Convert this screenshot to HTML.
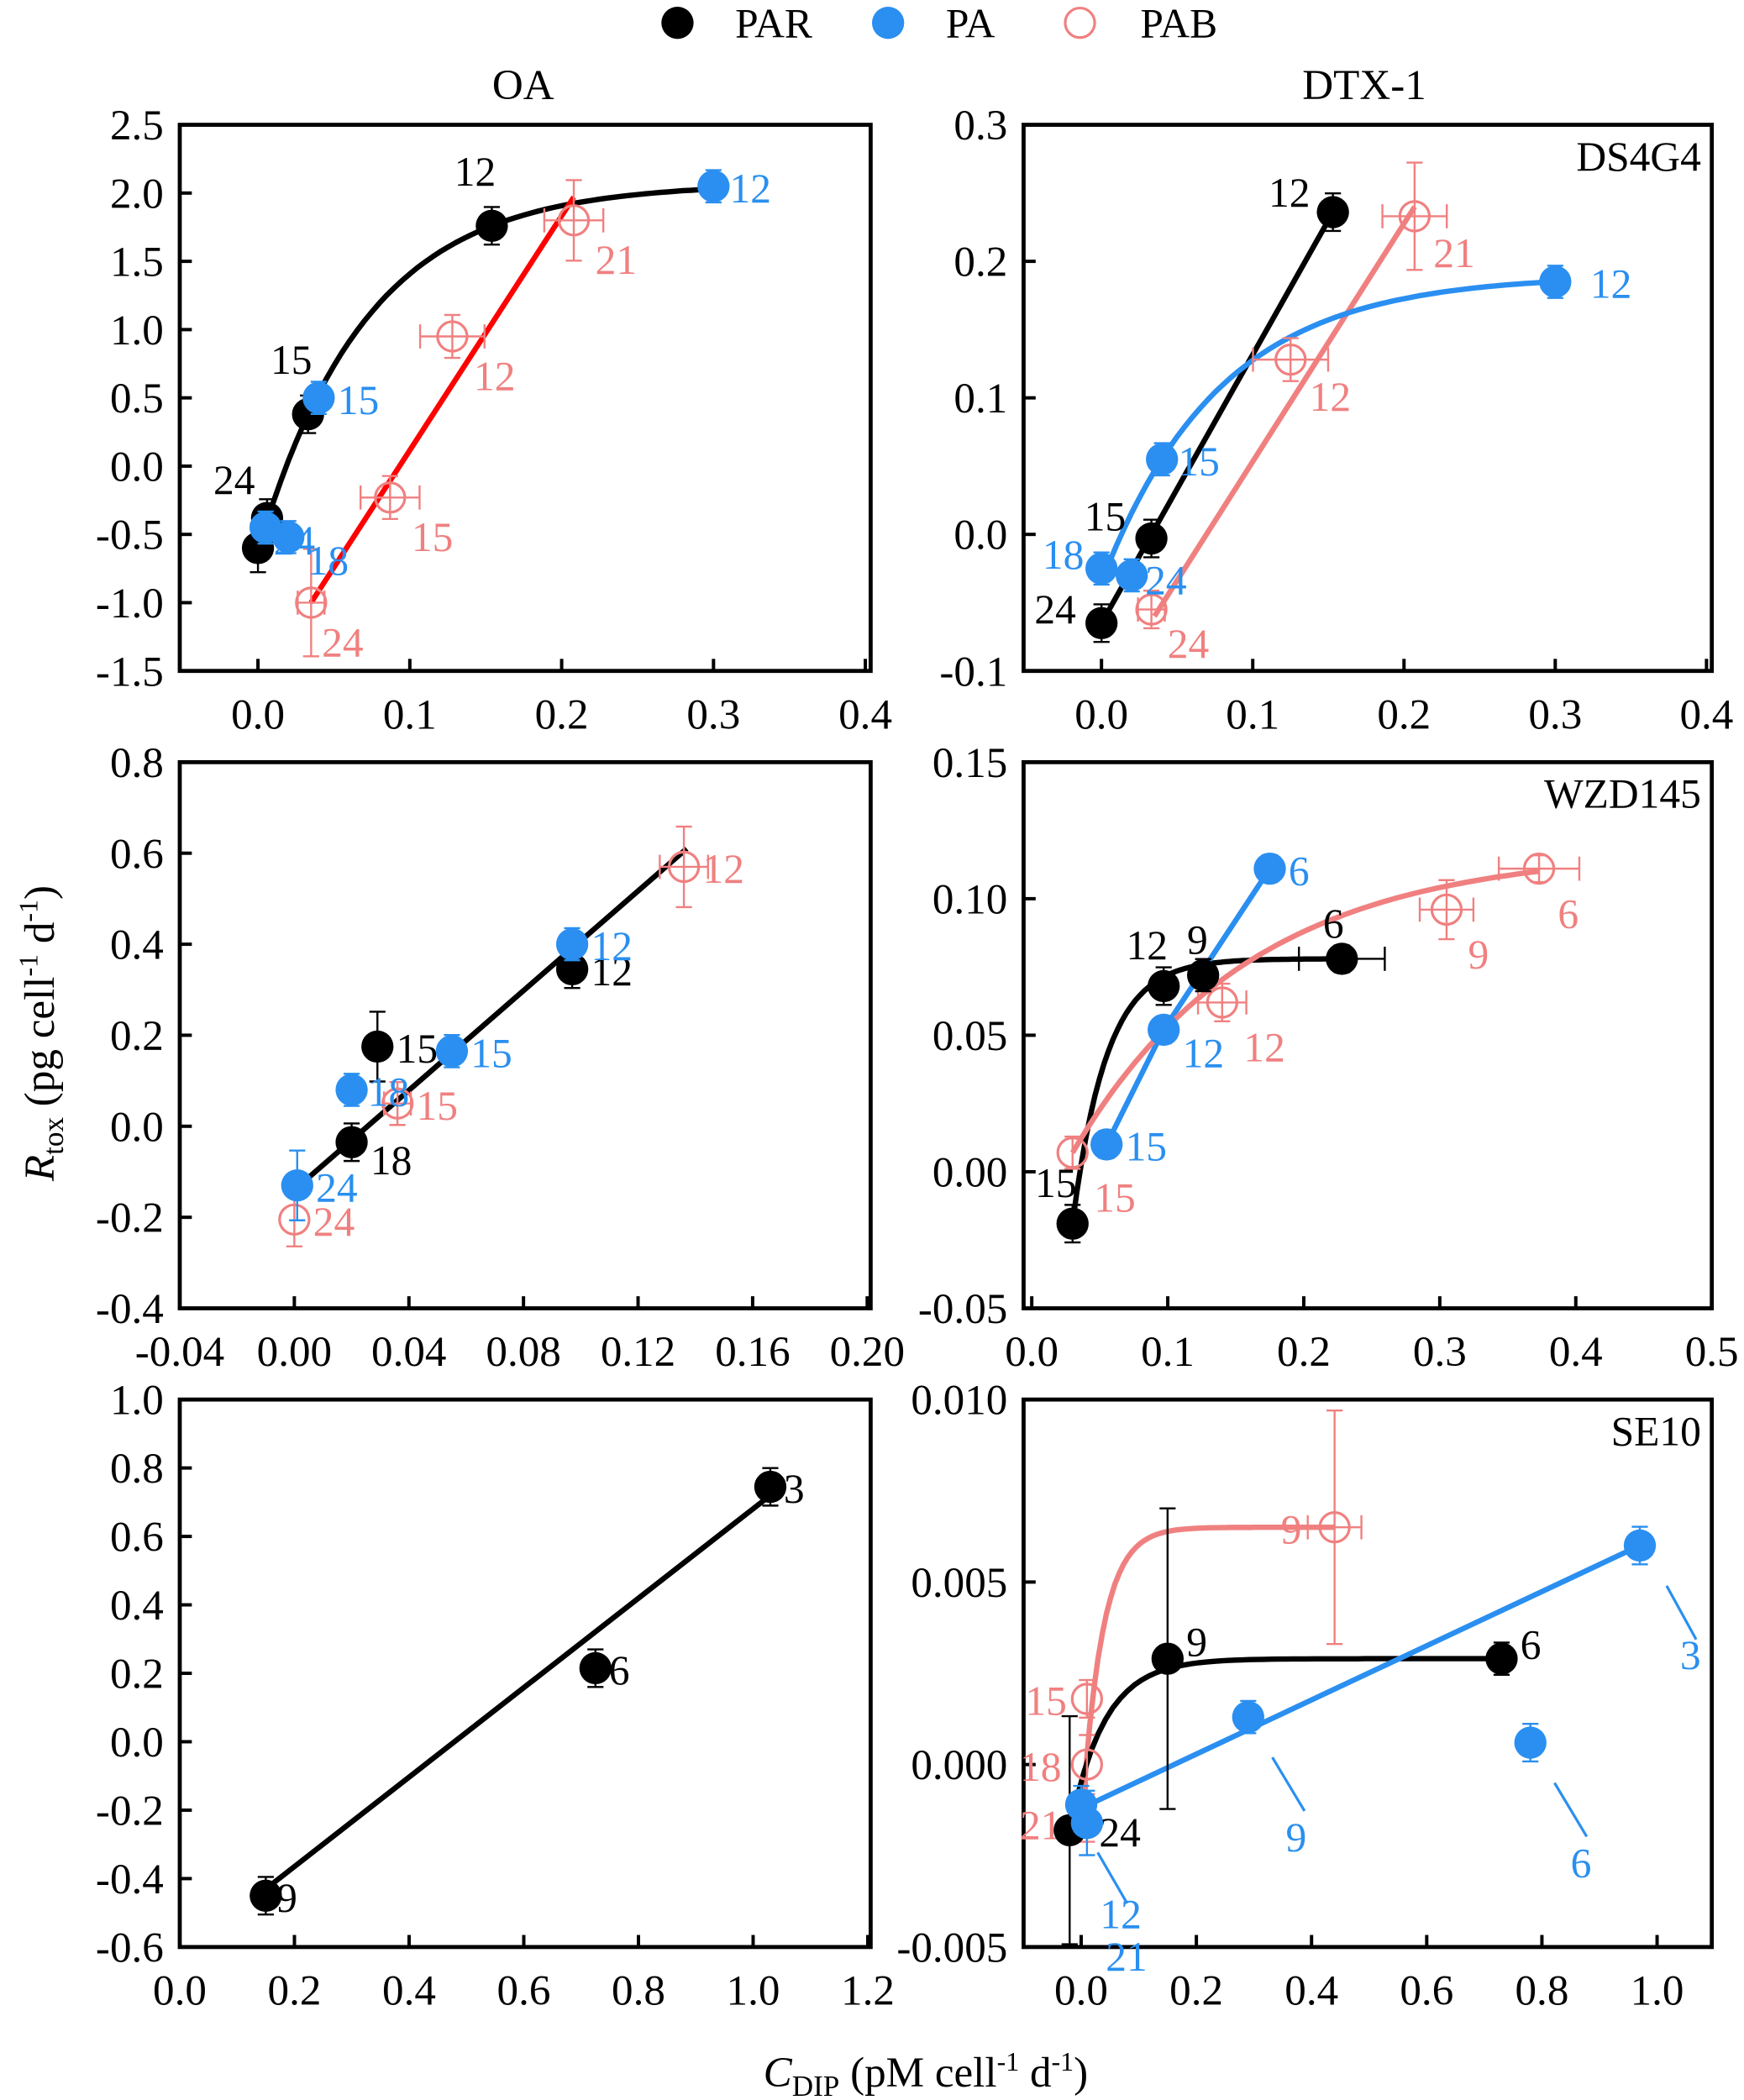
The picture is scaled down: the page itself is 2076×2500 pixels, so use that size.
<!DOCTYPE html>
<html><head><meta charset="utf-8"><style>
html,body{margin:0;padding:0;background:#fff}
svg{display:block}
text{font-family:"Liberation Serif",serif}
</style></head><body>
<svg id="fig" width="2076" height="2500" viewBox="0 0 1300 1565" preserveAspectRatio="none" xmlns="http://www.w3.org/2000/svg" font-family="Liberation Serif, serif">
<rect width="1300" height="1565" fill="#fff"/>
<g>
 <g><circle cx="505" cy="17" r="12" fill="#000"/><text x="548" y="28" font-size="31">PAR</text></g>
 <g><circle cx="662" cy="17" r="12" fill="#2a8ff0"/><text x="705" y="28" font-size="31">PA</text></g>
 <g><circle cx="805" cy="17" r="11" fill="none" stroke="#f08080" stroke-width="2"/><text x="850" y="28" font-size="31">PAB</text></g>
</g>
<text x="390" y="74" font-size="32" text-anchor="middle">OA</text>
<text x="1017" y="74" font-size="32" text-anchor="middle">DTX-1</text>
<text transform="translate(40,770) rotate(-90)" font-size="32" text-anchor="middle"><tspan font-style="italic">R</tspan><tspan font-size="22" dy="7">tox</tspan><tspan dy="-7"> (pg cell</tspan><tspan font-size="20" dy="-12">-1</tspan><tspan dy="12"> d</tspan><tspan font-size="20" dy="-12">-1</tspan><tspan dy="12">)</tspan></text>
<text x="690" y="1555" font-size="32" text-anchor="middle"><tspan font-style="italic">C</tspan><tspan font-size="22" dy="7">DIP</tspan><tspan dy="-7"> (pM cell</tspan><tspan font-size="20" dy="-12">-1</tspan><tspan dy="12"> d</tspan><tspan font-size="20" dy="-12">-1</tspan><tspan dy="12">)</tspan></text>
</svg>
<script>
// ---- data arrays ----
// Panel 1: OA DS4G4
const p1xTicks=[0.0,0.1,0.2,0.3,0.4]; const p1xLabels=["0.0","0.1","0.2","0.3","0.4"];
const p1yTicks=[-1.5,-1.0,-0.5,0.0,0.5,1.0,1.5,2.0,2.5]; const p1yLabels=["-1.5","-1.0","-0.5","0.0","0.5","1.0","1.5","2.0","2.5"];
const p1ParX=[0.0,0.006,0.033,0.154]; const p1ParY=[-0.6,-0.38,0.38,1.76]; const p1ParLab=["","24","15","12"];
const p1PaX=[0.005,0.02,0.04,0.3]; const p1PaY=[-0.45,-0.52,0.5,2.05]; const p1PaLab=["24","18","15","12"];
const p1PabX=[0.035,0.087,0.128,0.208]; const p1PabY=[-1.0,-0.23,0.95,1.8]; const p1PabLab=["24","15","12","21"];
// Panel 2: DTX-1 DS4G4
const p2xTicks=[0.0,0.1,0.2,0.3,0.4]; const p2xLabels=["0.0","0.1","0.2","0.3","0.4"];
const p2yTicks=[-0.1,0.0,0.1,0.2,0.3]; const p2yLabels=["-0.1","0.0","0.1","0.2","0.3"];
const p2ParX=[0.0,0.033,0.153]; const p2ParY=[-0.065,-0.003,0.236]; const p2ParLab=["24","15","12"];
const p2PaX=[0.0,0.02,0.04,0.3]; const p2PaY=[-0.025,-0.03,0.055,0.185]; const p2PaLab=["18","24","15","12"];
const p2PabX=[0.033,0.125,0.207]; const p2PabY=[-0.055,0.128,0.233]; const p2PabLab=["24","12","21"];
// Panel 3: OA WZD145
const p3xTicks=[-0.04,0.0,0.04,0.08,0.12,0.16,0.2]; const p3xLabels=["-0.04","0.00","0.04","0.08","0.12","0.16","0.20"];
const p3yTicks=[-0.4,-0.2,0.0,0.2,0.4,0.6,0.8]; const p3yLabels=["-0.4","-0.2","0.0","0.2","0.4","0.6","0.8"];
const p3ParX=[0.02,0.029,0.097]; const p3ParY=[-0.035,0.175,0.345]; const p3ParLab=["18","15","12"];
const p3PaX=[0.001,0.02,0.055,0.097]; const p3PaY=[-0.13,0.08,0.165,0.4]; const p3PaLab=["24","18","15","12"];
const p3PabX=[0.0,0.036,0.136]; const p3PabY=[-0.205,0.05,0.57]; const p3PabLab=["24","15","12"];
// Panel 4: DTX-1 WZD145
const p4xTicks=[0.0,0.1,0.2,0.3,0.4,0.5]; const p4xLabels=["0.0","0.1","0.2","0.3","0.4","0.5"];
const p4yTicks=[-0.05,0.0,0.05,0.1,0.15]; const p4yLabels=["-0.05","0.00","0.05","0.10","0.15"];
const p4ParX=[0.03,0.097,0.126,0.228]; const p4ParY=[-0.019,0.068,0.072,0.078]; const p4ParLab=["15","12","9","6"];
const p4PaX=[0.055,0.097,0.175]; const p4PaY=[0.01,0.052,0.111]; const p4PaLab=["15","12","6"];
const p4PabX=[0.03,0.14,0.305,0.373]; const p4PabY=[0.007,0.062,0.096,0.111]; const p4PabLab=["15","12","9","6"];
// Panel 5: OA SE10
const p5xTicks=[0.0,0.2,0.4,0.6,0.8,1.0,1.2]; const p5xLabels=["0.0","0.2","0.4","0.6","0.8","1.0","1.2"];
const p5yTicks=[-0.6,-0.4,-0.2,0.0,0.2,0.4,0.6,0.8,1.0]; const p5yLabels=["-0.6","-0.4","-0.2","0.0","0.2","0.4","0.6","0.8","1.0"];
const p5ParX=[0.15,0.725,1.03]; const p5ParY=[-0.45,0.215,0.745]; const p5ParLab=["9","6","3"];
// Panel 6: DTX-1 SE10
const p6xTicks=[0.0,0.2,0.4,0.6,0.8,1.0]; const p6xLabels=["0.0","0.2","0.4","0.6","0.8","1.0"];
const p6yTicks=[-0.005,0.0,0.005,0.01]; const p6yLabels=["-0.005","0.000","0.005","0.010"];
const p6ParX=[-0.02,0.15,0.73]; const p6ParY=[-0.0018,0.0029,0.0029]; const p6ParLab=["24","9","6"];
const p6PaX=[0.0,0.01,0.29,0.78,0.97]; const p6PaY=[-0.0011,-0.0016,0.0013,0.0006,0.006]; const p6PaLab=["12","21","9","6","3"];
const p6PabX=[0.01,0.01,0.01,0.44]; const p6PabY=[0.0018,0.0,-0.0016,0.0065]; const p6PabLab=["15","18","21","9"];

const BLACK="#000", BLUE="#2a8ff0", PINK="#f08080", RED="#ff0000";
const svg=document.getElementById('fig');
const NS="http://www.w3.org/2000/svg";
function mk(tag,attrs,parent){const e=document.createElementNS(NS,tag);for(const k in attrs)e.setAttribute(k,attrs[k]);parent.appendChild(e);return e;}

function panel(name,box,xd,yd,xt,xl,yt,yl,strain){
  const g=mk('g',{},svg);
  
  
  const sx=v=>box.l+(v-xd[0])/(xd[1]-xd[0])*(box.r-box.l);
  const sy=v=>box.b-(v-yd[0])/(yd[1]-yd[0])*(box.b-box.t);
  const fr=mk('rect',{x:box.l,y:box.t,width:box.r-box.l,height:box.b-box.t,fill:'none',stroke:'#000','stroke-width':3},g);
  
  
  xt.forEach((v,i)=>{
    mk('line',{x1:sx(v),x2:sx(v),y1:box.b,y2:box.b-9,stroke:'#000','stroke-width':2.5},g);
    const t=mk('text',{x:sx(v),y:box.b+43,'font-size':32,'text-anchor':'middle'},g);t.textContent=xl[i];
    
    
  });
  yt.forEach((v,i)=>{
    mk('line',{x1:box.l,x2:box.l+9,y1:sy(v),y2:sy(v),stroke:'#000','stroke-width':2.5},g);
    const t=mk('text',{x:box.l-12,y:sy(v)+11,'font-size':32,'text-anchor':'end'},g);t.textContent=yl[i];
    
    
  });
  if(strain){const t=mk('text',{x:box.r-8,y:box.t+34,'font-size':31,'text-anchor':'end'},g);t.textContent=strain;
    
    }
  return {g,sx,sy};
}
function line(P,pts,color,w,name){
  const d=pts.map((p,i)=>(i?'L':'M')+P.sx(p[0]).toFixed(1)+','+P.sy(p[1]).toFixed(1)).join(' ');
  const e=mk('path',{d,fill:'none',stroke:color,'stroke-width':w||4,'stroke-linejoin':'round'},P.g);
  
  
}
function satCurve(P,x0,x1,a,b,c,color,name){
  const pts=[];for(let i=0;i<=60;i++){const x=x0+(x1-x0)*i/60;pts.push([x,a-b*Math.exp(-(x-x0)/c)]);}
  line(P,pts,color,4,name);
}
function series(P,xs,ys,labs,color,hollow,name,dx,dy,ey,ex){
  xs.forEach((x,i)=>{
    const cx=P.sx(x),cy=P.sy(ys[i]);
    const e=ey?ey[i]||12:12, h=ex?ex[i]||0:0;
    mk('line',{x1:cx,x2:cx,y1:cy-e,y2:cy+e,stroke:color,'stroke-width':1.5},P.g);
    mk('line',{x1:cx-6,x2:cx+6,y1:cy-e,y2:cy-e,stroke:color,'stroke-width':1.5},P.g);
    mk('line',{x1:cx-6,x2:cx+6,y1:cy+e,y2:cy+e,stroke:color,'stroke-width':1.5},P.g);
    if(h){mk('line',{x1:cx-h,x2:cx+h,y1:cy,y2:cy,stroke:color,'stroke-width':1.5},P.g);
      mk('line',{x1:cx-h,x2:cx-h,y1:cy-9,y2:cy+9,stroke:color,'stroke-width':1.5},P.g);
      mk('line',{x1:cx+h,x2:cx+h,y1:cy-9,y2:cy+9,stroke:color,'stroke-width':1.5},P.g);}
    const c=mk('circle',{cx,cy,r:hollow?11:12,fill:hollow?'none':color,stroke:color,'stroke-width':hollow?2:0},P.g);
    
    
    if(labs[i]){const t=mk('text',{x:cx+(dx?dx[i]:16),y:cy+(dy?dy[i]:12),'font-size':31,fill:color},P.g);t.textContent=labs[i];
      
      }
  });
}
// Panel 1
let P=panel('panel-oa-ds4g4',{l:134,r:649,t:93,b:500},[-0.0515,0.4035],[-1.5,2.5],p1xTicks,p1xLabels,p1yTicks,p1yLabels,'');
satCurve(P,0,0.3,2.07,2.69,0.0713,BLACK,'par-fit-curve');
line(P,[[0.035,-1.0],[0.208,1.97]],RED,4,'pab-fit-line');
series(P,p1PabX,p1PabY,p1PabLab,PINK,true,'pab',[8,16,16,16],[40,40,40,40],[40,16,16,30],[10,22,24,22]);
series(P,p1ParX,p1ParY,p1ParLab,BLACK,false,'par',[0,-40,-28,-28],[0,-18,-30,-30],[18,14,14,14]);
series(P,p1PaX,p1PaY,p1PaLab,BLUE,false,'pa',[6,14,14,12],[20,28,12,12],[12,12,12,12]);
// Panel 2
P=panel('panel-dtx1-ds4g4',{l:763,r:1276,t:93,b:500},[-0.0515,0.4035],[-0.1,0.3],p2xTicks,p2xLabels,p2yTicks,p2yLabels,'DS4G4');
line(P,[[0,-0.065],[0.153,0.236]],BLACK,4,'par-fit-line');
line(P,[[0.035,-0.06],[0.207,0.24]],PINK,4,'pab-fit-line');
satCurve(P,0,0.3,0.19,0.225,0.078,BLUE,'pa-fit-curve');
series(P,p2PabX,p2PabY,p2PabLab,PINK,true,'pab',[12,14,14],[36,38,38],[14,16,40],[10,28,24]);
series(P,p2ParX,p2ParY,p2ParLab,BLACK,false,'par',[-50,-50,-48],[0,-6,-4],[14,14,14]);
series(P,p2PaX,p2PaY,p2PaLab,BLUE,false,'pa',[-44,10,12,26],[0,14,12,12],[12,12,12,12]);
// Panel 3
P=panel('panel-oa-wzd145',{l:134,r:649,t:568,b:975},[-0.04,0.2012],[-0.4,0.8],p3xTicks,p3xLabels,p3yTicks,p3yLabels,'');
line(P,[[0,-0.14],[0.137,0.61]],BLACK,4,'par-fit-line');
series(P,p3PabX,p3PabY,p3PabLab,PINK,true,'pab',[14,14,14],[12,12,12],[20,16,30],[0,10,18]);
series(P,p3ParX,p3ParY,p3ParLab,BLACK,false,'par',[14,14,14],[24,12,12],[14,26,14]);
series(P,p3PaX,p3PaY,p3PaLab,BLUE,false,'pa',[14,12,14,14],[12,12,12,12],[26,12,12,12]);
// Panel 4
P=panel('panel-dtx1-wzd145',{l:763,r:1276,t:568,b:975},[-0.006,0.5],[-0.05,0.15],p4xTicks,p4xLabels,p4yTicks,p4yLabels,'WZD145');
satCurve(P,0.03,0.228,0.078,0.097,0.025,BLACK,'par-fit-curve');
line(P,[[0.055,0.01],[0.097,0.052],[0.175,0.111]],BLUE,4,'pa-fit-line');
satCurve(P,0.03,0.373,0.118,0.111,0.13,PINK,'pab-fit-curve');
series(P,p4PabX,p4PabY,p4PabLab,PINK,true,'pab',[16,16,16,14],[44,44,44,44],[12,14,22,10],[0,18,20,30]);
series(P,p4ParX,p4ParY,p4ParLab,BLACK,false,'par',[-28,-28,-12,-14],[-20,-20,-16,-16],[14,14,12,10],[0,0,0,32]);
series(P,p4PaX,p4PaY,p4PaLab,BLUE,false,'pa',[14,14,14],[12,28,12],[10,10,10]);
// Panel 5
P=panel('panel-oa-se10',{l:134,r:649,t:1043,b:1451},[0,1.205],[-0.6,1.0],p5xTicks,p5xLabels,p5yTicks,p5yLabels,'');
line(P,[[0.15,-0.43],[1.03,0.72]],BLACK,4,'par-fit-line');
series(P,p5ParX,p5ParY,p5ParLab,BLACK,false,'par',[8,10,10],[12,12,12],[14,14,14]);
// Panel 6
P=panel('panel-dtx1-se10',{l:763,r:1276,t:1043,b:1451},[-0.1,1.095],[-0.005,0.01],p6xTicks,p6xLabels,p6yTicks,p6yLabels,'SE10');
satCurve(P,0,0.44,0.0065,0.0083,0.035,PINK,'pab-fit-curve');
satCurve(P,-0.02,0.73,0.0029,0.0047,0.06,BLACK,'par-fit-curve');
line(P,[[0.0,-0.0012],[0.97,0.006]],BLUE,4,'pa-fit-line');
// leader lines for PA labels
[[0.97,0.006,20,30,42,70],[0.78,0.0006,18,30,42,70],[0.29,0.0013,18,30,42,70],[0.01,-0.0016,8,22,30,60]].forEach(a=>{
  const x=P.sx(a[0]),y=P.sy(a[1]);
  const e=mk('line',{x1:x+a[2],y1:y+a[3],x2:x+a[4],y2:y+a[5],stroke:BLUE,'stroke-width':2},P.g);
  
  
});
series(P,p6PabX,p6PabY,p6PabLab,PINK,true,'pab',[-46,-50,-50,-40],[12,12,12,12],[14,22,14,87],[0,0,0,20]);
series(P,p6ParX,p6ParY,p6ParLab,BLACK,false,'par',[22,14,14],[12,-2,0],[85,112,12]);
series(P,p6PaX,p6PaY,p6PaLab,BLUE,false,'pa',[14,14,28,30,30],[92,110,100,100,92],[14,24,12,14,14]);
</script>
</body></html>
